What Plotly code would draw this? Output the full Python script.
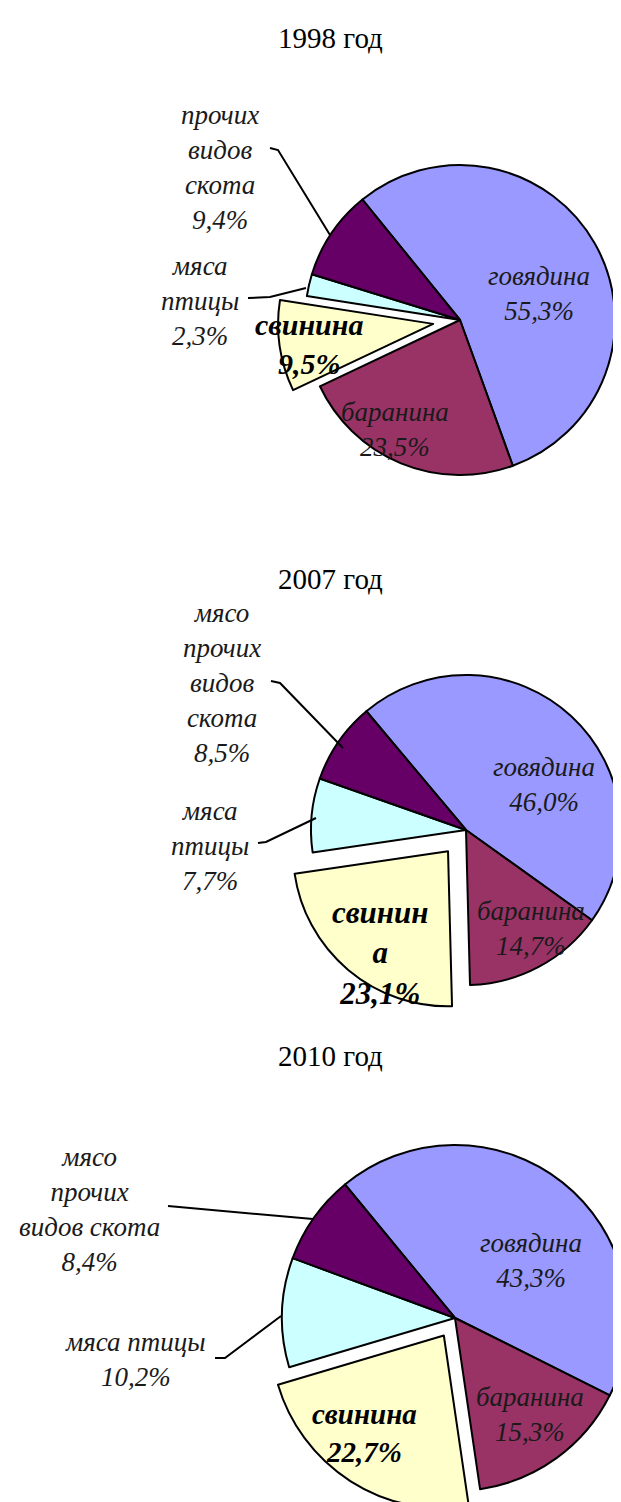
import math
import plotly.graph_objects as go

W, H = 621, 1502

# ---------------- data ----------------
categories = ["говядина", "баранина", "свинина", "мяса птицы", "прочих видов скота"]
years = ["1998 год", "2007 год", "2010 год"]
values_1998 = [55.3, 23.5, 9.5, 2.3, 9.4]
values_2007 = [46.0, 14.7, 23.1, 7.7, 8.5]
values_2010 = [43.3, 15.3, 22.7, 10.2, 8.4]
labels_1998 = ["говядина", "баранина", "свинина", "мяса<br>птицы", "прочих<br>видов<br>скота"]
labels_2007 = ["говядина", "баранина", "свинин<br>а", "мяса<br>птицы", "мясо<br>прочих<br>видов<br>скота"]
labels_2010 = ["говядина", "баранина", "свинина", "мяса птицы", "мясо<br>прочих<br>видов скота"]
colors = ["#9999FF", "#993366", "#FFFFCC", "#CCFFFF", "#660066"]
PULLED = 2  # index of the exploded slice (свинина)

# ---------------- layout (pixels) ----------------
pies = [
    dict(year=years[0], values=values_1998, labels=labels_1998, cx=452, cy=312, r=155, rot=-39, pull=0.175,
         title_y=30,
         label_pos=[(531, 286), (387, 422), (301, 336), (192, 293), (212, 159)],
         pork_size=30,
         lines=[[(262, 140), (270, 142), (322, 227)], [(240, 290), (262, 289), (298, 280)]]),
    dict(year=years[1], values=values_2007, labels=labels_2007, cx=458, cy=822, r=155, rot=-40, pull=0.18,
         title_y=571,
         label_pos=[(536, 776), (523, 921), (372, 945), (202, 838), (214, 675)],
         pork_size=31,
         lines=[[(263, 673), (272, 675), (335, 740)], [(250, 835), (258, 834), (308, 810)]]),
    dict(year=years[2], values=values_2010, labels=labels_2010, cx=447, cy=1310, r=173, rot=-39.5, pull=0.12,
         title_y=1048,
         label_pos=[(523, 1252), (522, 1406), (356, 1425), (127, 1351), (81, 1201)],
         pork_size=29,
         lines=[[(160, 1198), (305, 1211)], [(207, 1350), (217, 1350), (273, 1308)]]),
]

FONT = "Liberation Serif, Times New Roman, serif"
TRANSP = "rgba(0,0,0,0)"


def px2paper(x, y):
    return x / W, 1 - y / H


def domain(cx, cy, r):
    return dict(x=[(cx - r) / W, (cx + r) / W], y=[1 - (cy + r) / H, 1 - (cy - r) / H])


def fmt(v):
    return f"{v:.1f}".replace(".", ",") + "%"


fig = go.Figure()
annotations = []
shapes = []

for p in pies:
    vals = p["values"]
    n = len(vals)
    # main pie without the exploded slice
    colA = [TRANSP if i == PULLED else colors[i] for i in range(n)]
    lwA = [0 if i == PULLED else 2 for i in range(n)]
    fig.add_trace(go.Pie(
        values=vals, labels=categories, sort=False, direction="clockwise", rotation=p["rot"],
        marker=dict(colors=colA, line=dict(color="black", width=lwA)),
        textinfo="none", hoverinfo="skip", showlegend=False,
        domain=domain(p["cx"], p["cy"], p["r"]),
    ))
    # exploded slice, shifted along its mid-angle
    total = sum(vals)
    mid = p["rot"] + 360 * (sum(vals[:PULLED]) + vals[PULLED] / 2) / total
    d = p["pull"] * p["r"]
    ox = p["cx"] + d * math.sin(math.radians(mid))
    oy = p["cy"] - d * math.cos(math.radians(mid))
    colB = [colors[i] if i == PULLED else TRANSP for i in range(n)]
    lwB = [2 if i == PULLED else 0 for i in range(n)]
    fig.add_trace(go.Pie(
        values=vals, labels=categories, sort=False, direction="clockwise", rotation=p["rot"],
        marker=dict(colors=colB, line=dict(color="black", width=lwB)),
        textinfo="none", hoverinfo="skip", showlegend=False,
        domain=domain(ox, oy, p["r"]),
    ))

    # title
    tx, ty = px2paper(322, p["title_y"])
    annotations.append(dict(x=tx, y=ty, xref="paper", yref="paper", text=p["year"], showarrow=False,
                            font=dict(family=FONT, size=29, color="black"), xanchor="center", yanchor="middle"))
    # slice labels
    for i, (lx, ly) in enumerate(p["label_pos"]):
        x, y = px2paper(lx, ly)
        txt = f"{p['labels'][i]}<br>{fmt(vals[i])}"
        if i == PULLED:
            txt = f"<b><i>{txt}</i></b>"
            size = p["pork_size"]
            col = "black"
        else:
            txt = f"<i>{txt}</i>"
            size = 27
            col = "#1a1a1a"
        annotations.append(dict(x=x, y=y, xref="paper", yref="paper", text=txt, showarrow=False,
                                font=dict(family=FONT, size=size, color=col),
                                xanchor="center", yanchor="middle", align="center"))
    # leader lines
    for pts in p["lines"]:
        path = ""
        for k, (lx, ly) in enumerate(pts):
            x, y = px2paper(lx, ly)
            path += ("M " if k == 0 else " L ") + f"{x:.5f},{y:.5f}"
        shapes.append(dict(type="path", path=path, xref="paper", yref="paper",
                           line=dict(color="black", width=2)))

fig.update_layout(
    width=W, height=H, margin=dict(l=0, r=0, t=0, b=0),
    paper_bgcolor="white", plot_bgcolor="white",
    annotations=annotations, shapes=shapes,
)

fig.write_html("out.html")
